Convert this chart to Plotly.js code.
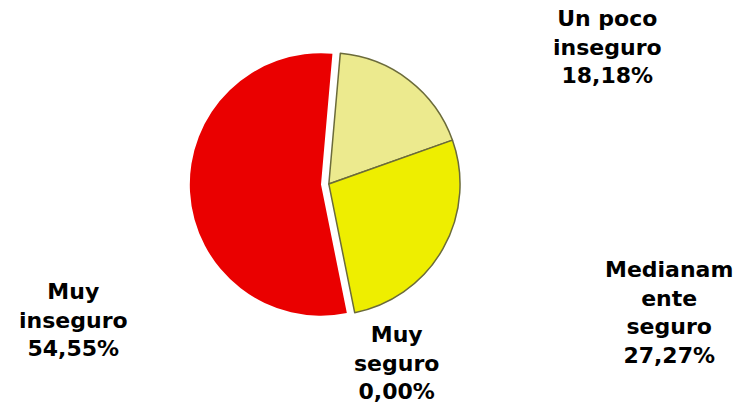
<!DOCTYPE html>
<html>
<head>
<meta charset="utf-8">
<script src="https://cdn.plot.ly/plotly-3.0.1.min.js"></script>
<style>html,body{margin:0;padding:0;background:#fff;}#chart{width:739px;height:409px;}</style>
</head>
<body>
<div id="chart"></div>
<script>
const categories = ["Un poco inseguro", "Medianamente seguro", "Muy seguro", "Muy inseguro"];
const labelLines = ["Un poco<br>inseguro", "Medianam<br>ente<br>seguro", "Muy<br>seguro", "Muy<br>inseguro"];
const counts = [2, 3, 0, 6];
const colors = ["#ECEA8E", "#EEEE00", "#8B8B00", "#EA0000"];
const pulls = [0, 0, 0, 0.06];

const total = counts.reduce((a, b) => a + b, 0);
const pctText = counts.map(v => (v / total * 100).toFixed(2).replace('.', ',') + '%');

const labelPos = [
  {x: 0.822, y: 0.885},
  {x: 0.905, y: 0.235},
  {x: 0.537, y: 0.112},
  {x: 0.100, y: 0.218}
];

const trace = {
  type: 'pie',
  labels: categories,
  values: counts,
  sort: false,
  direction: 'clockwise',
  rotation: 5,
  pull: pulls,
  textinfo: 'none',
  hoverinfo: 'label+percent',
  marker: {colors: colors, line: {color: '#6b6b3a', width: [1.5, 1.5, 0, 0]}},
  domain: {x: [0.24, 0.65], y: [0.21, 0.89]},
  showlegend: false
};

const annotations = categories.map((c, i) => ({
  xref: 'paper', yref: 'paper',
  x: labelPos[i].x, y: labelPos[i].y,
  xanchor: 'center', yanchor: 'middle',
  showarrow: false,
  align: 'center',
  text: '<b>' + labelLines[i] + '<br>' + pctText[i] + '</b>',
  font: {family: 'DejaVu Sans, Verdana, sans-serif', size: 22, color: '#000'}
}));

const layout = {
  width: 739, height: 409,
  margin: {l: 0, r: 0, t: 0, b: 0},
  paper_bgcolor: '#ffffff',
  plot_bgcolor: '#ffffff',
  annotations: annotations
};

Plotly.newPlot('chart', [trace], layout, {displayModeBar: false, staticPlot: true});
</script>
</body>
</html>
